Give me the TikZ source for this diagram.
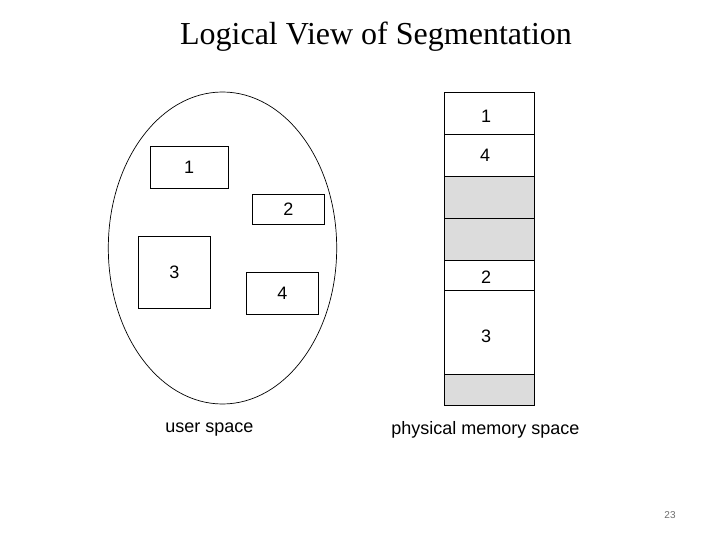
\documentclass[tikz,border=0pt]{standalone}
\usepackage{fontspec}
\setmainfont{Liberation Serif}
\newfontfamily\arial{Liberation Sans}
\definecolor{memgray}{RGB}{220,220,220}
\definecolor{pagegray}{RGB}{110,110,110}
\begin{document}
\begin{tikzpicture}[x=1pt,y=-1pt,
  seg/.style={draw=black,line width=0.9pt,inner sep=0pt,font=\arial\fontsize{18}{20}\selectfont},
  lbl/.style={inner sep=0pt,font=\arial\fontsize{18}{20}\selectfont},
  cell/.style={draw=black,line width=0.9pt}]
\useasboundingbox (0,0) rectangle (720,540);
\fill[white] (0,0) rectangle (720,540);
% title
\node[anchor=base,inner sep=0pt,font=\fontsize{32}{36}\selectfont] (title) at (376,45) {Logical View of Segmentation};
% user space ellipse
\draw[line width=0.7pt] (222.5,248) ellipse [x radius=114.2, y radius=156];
\node[seg,minimum width=78.3pt,minimum height=42.3pt] (u1) at (189.2,167.2) {1};
\node[seg,minimum width=72pt,minimum height=30pt] (u2) at (288.3,209.3) {2};
\node[seg,minimum width=72pt,minimum height=72.3pt] (u3) at (174.3,272.2) {3};
\node[seg,minimum width=72pt,minimum height=42pt] (u4) at (282.3,293.3) {4};
% physical memory
\fill[memgray] (444.3,176) rectangle (534.3,260.3);
\fill[memgray] (444.3,374.3) rectangle (534.3,405);
\draw[cell] (444.3,92.3) rectangle (534.3,405);
\foreach \yy in {134.3,176,218.3,260.3,290,374.3}
  \draw[cell] (444.3,\yy) -- (534.3,\yy);
\node[lbl] (m1) at (486,116.7) {1};
\node[lbl] (m4) at (485,155.5) {4};
\node[lbl] (m2) at (486,277.7) {2};
\node[lbl] (m3) at (486,336.7) {3};
% captions
\node[lbl] (us) at (209.5,430) {user space};
\node[lbl] (pms) at (485.5,430) {physical memory space};
\node[inner sep=0pt,text=pagegray,font=\arial\fontsize{10}{12}\selectfont] (pg) at (670,515) {23};
\end{tikzpicture}
\end{document}
